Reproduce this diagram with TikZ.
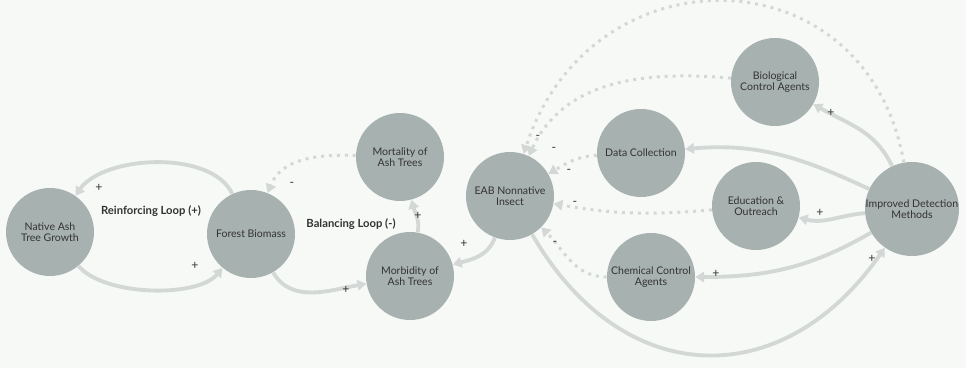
\documentclass[tikz,border=0pt]{standalone}
\usepackage{fontspec}
\setmainfont{Lato}
\usetikzlibrary{arrows.meta}
\definecolor{bg}{HTML}{F7F9F6}
\definecolor{disc}{HTML}{A7B1AF}
\definecolor{linkgray}{HTML}{D3D8D6}
\definecolor{ink}{HTML}{333333}
\tikzstyle{var}=[circle,fill=disc,minimum size=1.76cm,inner sep=0pt,align=center,text=ink,font=\fontsize{6}{6}\selectfont]
\tikzstyle{poslink}=[draw=linkgray,line width=2.2pt,-{Triangle[length=5pt,width=6pt]}]
\tikzstyle{neglink}=[poslink,line width=1.7pt,dash pattern=on 1.7pt off 2.8pt]
\tikzstyle{polarity}=[text=ink,font=\fontsize{7}{7}\selectfont,inner sep=0pt]
\tikzstyle{looplabel}=[text=ink,font=\fontsize{6.4}{6.4}\selectfont\bfseries,inner sep=0pt]

\begin{document}
\begin{tikzpicture}[x=0.02cm,y=0.02cm]
    \useasboundingbox (0,0) rectangle (966,368);
    \fill[bg] (0,0) rectangle (966,368);
    % variables
    \node[var] (nat) at (50,136) {Native Ash\\Tree Growth};
    \node[var] (fb) at (251,134) {Forest Biomass};
    \node[var] (mort) at (400,211) {Mortality of\\Ash Trees};
    \node[var] (morb) at (410,92) {Morbidity of\\Ash Trees};
    \node[var] (eab) at (510,172) {EAB Nonnative\\Insect};
    \node[var] (dc) at (641,215) {Data Collection};
    \node[var] (chem) at (651,91) {Chemical Control\\Agents};
    \node[var] (bio) at (775,286) {Biological\\Control Agents};
    \node[var] (edu) at (756,162) {Education \&\\Outreach};
    \node[var] (idm) at (912,159) {Improved Detection\\Methods};
    % loop names
    \node[looplabel] (rl) at (151,157) {Reinforcing Loop (+)};
    \node[looplabel] (bl) at (351,144) {Balancing Loop (-)};
    % links
    \draw[poslink] (fb) to[out=115,in=55,looseness=0.8] (nat);
    \draw[poslink] (nat) to[out=-50,in=-130,looseness=0.7] (fb);
    \draw[neglink] (mort) to[out=178,in=68] (fb);
    \draw[poslink] (fb) to[out=-60,in=190] (morb);
    \draw[poslink] (morb) to[out=80,in=-75] (mort);
    \draw[poslink] (eab) to[out=250,in=15] (morb);
    \draw[neglink] (dc) to[out=183,in=30] (eab);
    \draw[neglink] (edu) to[out=185,in=-10] (eab);
    \draw[neglink] (chem) to[out=180,in=-45] (eab);
    \draw[neglink] (bio) to[out=175,in=65] (eab);
    \draw[neglink] (idm) to[out=100,in=72,looseness=1.45] (eab);
    \draw[poslink] (idm) to[out=115,in=-30] (bio);
    \draw[poslink] (idm) to[out=155,in=5] (dc);
    \draw[poslink] (idm) to[out=185,in=-15] (edu);
    \draw[poslink] (idm) to[out=210,in=0] (chem);
    \draw[poslink] (eab) to[out=-60,in=235,looseness=1.3] (idm);
    % polarities
    \node[polarity] (p1) at (99,180) {+};
    \node[polarity] (p2) at (195,102) {+};
    \node[polarity] (n1) at (292,184) {-};
    \node[polarity] (p3) at (418,152) {+};
    \node[polarity] (p4) at (346,78) {+};
    \node[polarity] (p5) at (464,124) {+};
    \node[polarity] (n2) at (538,231) {-};
    \node[polarity] (n3) at (554,219) {-};
    \node[polarity] (n4) at (569,197) {-};
    \node[polarity] (n5) at (575,165) {-};
    \node[polarity] (n6) at (555,125) {-};
    \node[polarity] (p6) at (716,94) {+};
    \node[polarity] (p7) at (831,255) {+};
    \node[polarity] (p8) at (820,155) {+};
    \node[polarity] (p9) at (872,109) {+};
\end{tikzpicture}
\end{document}
